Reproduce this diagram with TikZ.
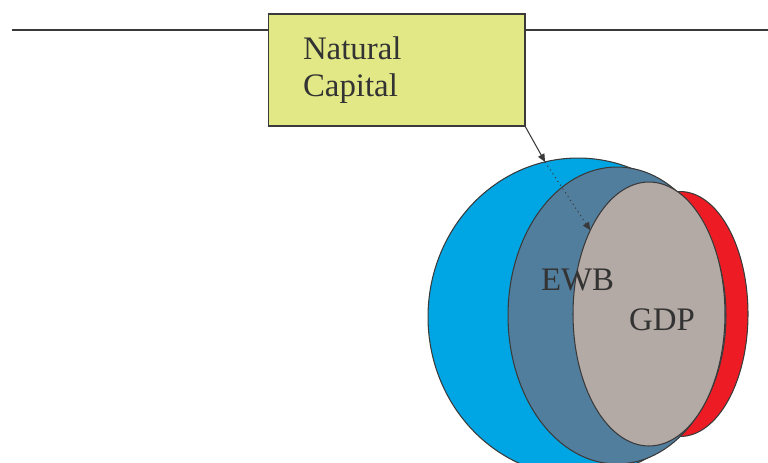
\documentclass[tikz,border=0pt]{standalone}
\usepackage{fontspec}
\setmainfont{Liberation Serif}
\usetikzlibrary{shapes.geometric,arrows.meta}

\definecolor{ncfill}{HTML}{E2E886}
\definecolor{nccap}{HTML}{00A5E3}
\definecolor{ewbfill}{HTML}{527E9E}
\definecolor{gdpfill}{HTML}{B3A9A5}
\definecolor{redfill}{HTML}{ED1C24}
\definecolor{ink}{HTML}{3A3A3A}
\definecolor{txt}{HTML}{333333}

\begin{document}
\begin{tikzpicture}[
  x=0.02cm, y=-0.02cm,
  font=\fontsize{18.7}{21.5}\selectfont,
  line width=0.6pt,
  blob/.style={draw=ink, ellipse, inner sep=0pt, outer sep=0pt},
  ncbox/.style={draw=ink, fill=ncfill, text=txt, align=left,
                text width=3.74cm, inner xsep=0.7cm, inner ysep=0pt,
                minimum height=2.24cm, outer sep=0pt},
  lbl/.style={text=txt, inner sep=0pt},
  arr/.style={draw=ink, -{Triangle[length=4.5pt, width=4pt]}}]

\useasboundingbox (0,0) rectangle (768,463);

% rule across the top
\coordinate (rulew) at (12,30);
\coordinate (rulee) at (768,30);
\draw[ink] (rulew) -- (rulee);

% capital layers
\node[blob, fill=nccap, minimum width=6cm, minimum height=6.36cm] (nc) at (578,317) {};
\node[blob, fill=redfill, minimum width=2.72cm, minimum height=4.9cm] (red) at (680,314) {};
\node[blob, fill=ewbfill, minimum width=4.36cm, minimum height=5.94cm] (ewb) at (617,315.5) {};
\node[blob, fill=gdpfill, minimum width=3.04cm, minimum height=5.28cm] (gdp) at (649,314) {};

% labels
\node[lbl] (ewbl) at (577.5,280) {EWB};
\node[lbl] (gdpl) at (662,319.5) {GDP};

% natural capital box
\node[ncbox] (natcap) at (396.5,70) {Natural\\Capital};

% arrows
\draw[arr] (natcap.south east) -- (nc.102.5);
\draw[arr, dotted] (nc.102.5) -- (gdp.125.5);
\end{tikzpicture}
\end{document}
